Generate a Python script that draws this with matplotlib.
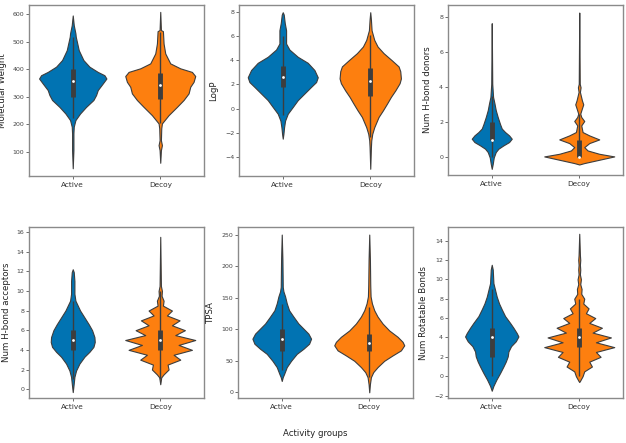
import matplotlib
matplotlib.use("Agg")
import matplotlib.pyplot as plt
import numpy as np

groups = ["Active", "Decoy"]
colors = ["#0173b2", "#fd7f0f"]
ylabels = ["Molecular Weight", "LogP", "Num H-bond donors",
           "Num H-bond acceptors", "TPSA", "Num Rotatable Bonds"]
xlabel = "Activity groups"

# Violin outlines: value -> relative density (half width)
mw_active_y = [595, 560, 530, 518, 469, 433, 409, 390, 378, 366, 348, 324, 306, 288, 263, 239, 215, 191, 167, 106, 40]
mw_active_d = [0, 3, 8, 9, 18, 32, 50, 75, 95, 101, 90, 75, 70, 62, 40, 22, 8, 3, 2, 2, 0]
mw_decoy_y = [608, 542, 538, 493, 457, 421, 403, 390, 375, 354, 336, 312, 288, 263, 233, 203, 185, 142, 124, 106, 60]
mw_decoy_d = [0, 2, 8, 10, 15, 30, 60, 95, 105, 100, 90, 85, 70, 50, 25, 5, 3, 2, 5, 2, 0]

logp_active_y = [8.0, 7.8, 7.1, 6.5, 6.0, 5.4, 4.9, 4.3, 3.8, 3.2, 2.6, 2.2, 1.8, 1.25, 0.7, 0.13, -0.43, -1.0, -1.55, -2.1, -2.5]
logp_active_d = [0, 3, 6, 10, 10, 10, 20, 45, 75, 95, 105, 100, 85, 65, 45, 30, 15, 7, 4, 2, 0]
logp_decoy_y = [8.0, 7.4, 6.5, 6.3, 5.7, 5.15, 4.6, 4.0, 3.5, 3.1, 2.5, 2.1, 1.5, 0.97, 0.4, -0.15, -0.7, -1.55, -2.1, -2.65, -3.2, -5.0]
logp_decoy_d = [0, 2, 4, 6, 12, 22, 40, 65, 85, 90, 92, 88, 75, 62, 50, 38, 25, 12, 6, 3, 2, 0]

hbd_active_y = [7.66, 4.2, 3.45, 3.1, 2.7, 2.3, 1.9, 1.65, 1.45, 1.26, 1.07, 0.88, 0.69, 0.5, 0.31, 0.0, -0.36, -0.65]
hbd_active_d = [0, 1.5, 4, 8, 12, 18, 25, 30, 40, 52, 60, 52, 35, 20, 12, 6, 3, 0]
hbd_decoy_y = [8.27, 4.2, 4.0, 3.74, 3.26, 3.03, 2.8, 2.5, 2.31, 2.08, 1.83, 1.45, 1.26, 1.03, 0.82, 0.59, 0.4, 0.21, 0.06, -0.13, -0.32, -0.4]
hbd_decoy_d = [0, 1.5, 4, 2, 8, 12, 8, 3, 6, 15, 6, 10, 30, 60, 30, 15, 25, 60, 105, 60, 15, 0]

hba_active_y = [12.2, 11.9, 11.0, 9.7, 9.0, 8.5, 8.0, 7.3, 6.6, 6.0, 5.3, 4.8, 4.3, 3.8, 3.3, 2.6, 1.9, 1.25, 0.6, -0.3]
hba_active_d = [0, 3, 5, 5, 8, 15, 22, 35, 48, 58, 65, 66, 62, 50, 35, 20, 10, 5, 3, 0]
hba_decoy_y = [15.5, 10.5, 10.0, 9.5, 9.0, 8.5, 8.0, 7.5, 7.0, 6.5, 6.0, 5.5, 5.0, 4.5, 4.0, 3.5, 3.0, 2.5, 2.0, 1.5, 1.2, 0.5]
hba_decoy_d = [0, 2, 5, 4, 10, 8, 35, 20, 58, 35, 74, 45, 105, 55, 95, 40, 60, 22, 25, 10, 3, 0]

tpsa_active_y = [250, 210, 167, 160, 152, 141, 130, 120, 109, 101, 93, 85, 77, 69, 61, 50, 40, 29, 24, 18]
tpsa_active_d = [0, 2, 3, 5, 10, 15, 22, 35, 50, 65, 80, 88, 82, 65, 45, 28, 15, 7, 3, 0]
tpsa_decoy_y = [250, 210, 170, 152, 141, 130, 120, 109, 98, 88, 80, 74.5, 66.5, 58.5, 50, 40, 32, 24, 13, 0]
tpsa_decoy_d = [0, 2, 3, 4, 8, 15, 25, 40, 60, 85, 100, 105, 95, 70, 45, 25, 12, 5, 2, 0]

rot_active_y = [11.5, 11.0, 9.6, 8.9, 8.2, 7.5, 6.9, 6.2, 5.5, 5.0, 4.45, 4.1, 3.6, 3.1, 2.55, 2.05, 1.5, 1.0, 0.33, -0.35, -1.0, -1.5]
rot_active_d = [0, 3, 5, 10, 15, 22, 30, 40, 55, 65, 75, 80, 72, 58, 50, 48, 42, 35, 25, 14, 5, 0]
rot_decoy_y = [14.7, 12.5, 12.0, 11.5, 11.0, 10.5, 10.0, 9.5, 9.0, 8.5, 8.0, 7.5, 7.0, 6.5, 6.0, 5.5, 5.0, 4.5, 4.0, 3.5, 3.0, 2.5, 2.0, 1.5, 1.0, 0.5, 0.0, -0.5, -0.6]
rot_decoy_d = [0, 2, 3, 2, 3, 2, 5, 3, 7, 6, 15, 12, 28, 20, 48, 30, 68, 40, 95, 50, 105, 50, 64, 30, 38, 15, 10, 2, 0]

# Box statistics: whisker low, Q1, median, Q3, whisker high
mw_box = [[221, 300, 358, 399, 515], [203, 290, 342, 387, 536]]
logp_box = [[-0.55, 1.75, 2.6, 3.5, 6.0], [-2.4, 1.05, 2.3, 3.4, 6.1]]
hbd_box = [[0, 1, 1, 2, 3.5], [0, 0, 0, 1, 2.5]]
hba_box = [[1, 4, 5, 6, 9], [1, 4, 5, 6, 10]]
tpsa_box = [[35, 65, 85, 100, 140], [25, 65, 78, 93, 135]]
rot_box = [[0, 2, 4, 5, 9], [0, 3, 4, 5, 8]]

yticks = [[100, 200, 300, 400, 500, 600], [-4, -2, 0, 2, 4, 6, 8], [0, 2, 4, 6, 8],
          [0, 2, 4, 6, 8, 10, 12, 14, 16], [0, 50, 100, 150, 200, 250], [-2, 0, 2, 4, 6, 8, 10, 12, 14]]
ylims = [(12, 633), (-5.6, 8.6), (-1.0, 8.7), (-0.9, 16.5), (-9, 262), (-2.25, 15.4)]

panels = [
    ((mw_active_y, mw_active_d), (mw_decoy_y, mw_decoy_d), mw_box),
    ((logp_active_y, logp_active_d), (logp_decoy_y, logp_decoy_d), logp_box),
    ((hbd_active_y, hbd_active_d), (hbd_decoy_y, hbd_decoy_d), hbd_box),
    ((hba_active_y, hba_active_d), (hba_decoy_y, hba_decoy_d), hba_box),
    ((tpsa_active_y, tpsa_active_d), (tpsa_decoy_y, tpsa_decoy_d), tpsa_box),
    ((rot_active_y, rot_active_d), (rot_decoy_y, rot_decoy_d), rot_box),
]

W, H = 626, 443
fig = plt.figure(figsize=(W / 100, H / 100), dpi=100)
# axes boxes in pixels: left, top, right, bottom
boxes = [(29, 5, 204, 176), (239, 5, 414, 176), (448, 5, 623, 175),
         (29, 227, 204, 398), (238, 227, 413, 398), (448, 227, 623, 398)]
label_x = [7.5, 218, 432, 11, 215, 428]

dens_scale = 0.4 / 105.0
edge = "#3d3d3d"
for i, (box, (act, dec, bstats)) in enumerate(zip(boxes, panels)):
    l, t, r, b = box
    ax = fig.add_axes([l / W, 1 - b / H, (r - l) / W, (b - t) / H])
    for k, (yy, dd) in enumerate([act, dec]):
        yy = np.asarray(yy, float)
        dd = np.asarray(dd, float) * dens_scale
        ax.fill_betweenx(yy, k - dd, k + dd, facecolor=colors[k], edgecolor=edge,
                         linewidth=0.8, zorder=2)
        wl, q1, med, q3, wh = bstats[k]
        ax.plot([k, k], [wl, wh], color=edge, lw=1.0, zorder=3, solid_capstyle="butt")
        ax.plot([k, k], [q1, q3], color=edge, lw=3.5, zorder=3, solid_capstyle="butt")
        ax.scatter([k], [med], s=4, color="white", zorder=4, linewidths=0)
    ax.set_xlim(-0.5, 1.5)
    ax.set_ylim(*ylims[i])
    ax.set_xticks([0, 1])
    ax.set_xticklabels(groups, fontsize=5.3)
    ax.set_yticks(yticks[i])
    ax.tick_params(axis="y", labelsize=4.5, length=2.0, width=0.6, pad=1.5, colors="#555555",
                   labelcolor="#444444")
    ax.tick_params(axis="x", length=2.0, width=0.6, pad=2.5, colors="#555555", labelcolor="#333333")
    ax.set_ylabel(ylabels[i], fontsize=6.2, color="#222222")
    ax.yaxis.set_label_coords((label_x[i] - l) / (r - l), 0.5)
    for s in ax.spines.values():
        s.set_color("#8a8a8a")
        s.set_linewidth(1.0)

fig.text(315 / W, 1 - 433 / H, xlabel, ha="center", va="center", fontsize=6.2, color="#222222")
fig.savefig("out.png", dpi=100)
